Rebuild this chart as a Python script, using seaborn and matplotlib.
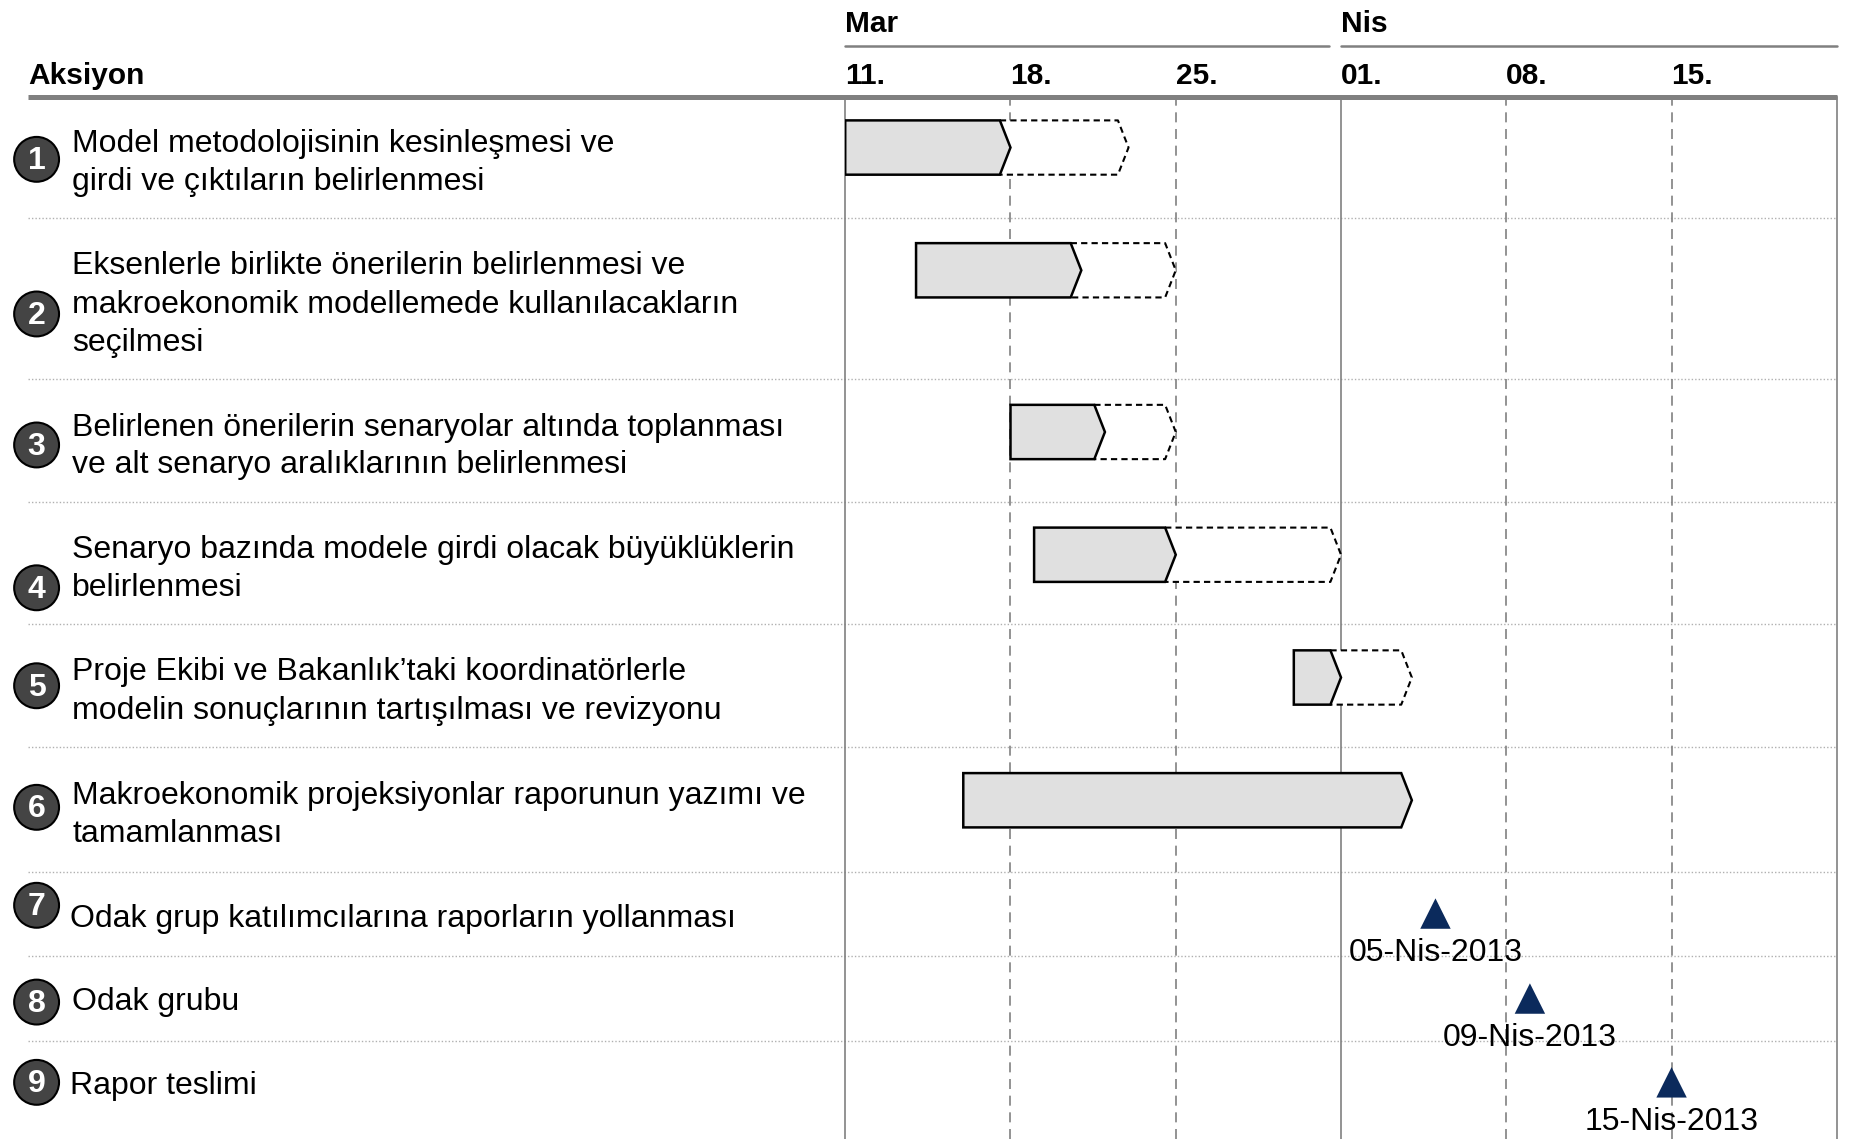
import numpy as np
import pandas as pd
import matplotlib.pyplot as plt
import matplotlib.dates as mdates
from matplotlib.transforms import blended_transform_factory
from matplotlib.patches import Polygon, Circle
import seaborn as sns

sns.set_style("white")
plt.rcParams['font.family'] = ['Liberation Sans', 'DejaVu Sans']
plt.rcParams['text.color'] = 'black'

# --- data ---
actions = [
    "Model metodolojisinin kesinleşmesi ve\ngirdi ve çıktıların belirlenmesi",
    "Eksenlerle birlikte önerilerin belirlenmesi ve\nmakroekonomik modellemede kullanılacakların\nseçilmesi",
    "Belirlenen önerilerin senaryolar altında toplanması\nve alt senaryo aralıklarının belirlenmesi",
    "Senaryo bazında modele girdi olacak büyüklüklerin\nbelirlenmesi",
    "Proje Ekibi ve Bakanlık’taki koordinatörlerle\nmodelin sonuçlarının tartışılması ve revizyonu",
    "Makroekonomik projeksiyonlar raporunun yazımı ve\ntamamlanması",
    "Odak grup katılımcılarına raporların yollanması",
    "Odak grubu",
    "Rapor teslimi",
]
task_start = ["2013-03-11", "2013-03-14", "2013-03-18", "2013-03-19", "2013-03-30", "2013-03-16"]
task_done = ["2013-03-18", "2013-03-21", "2013-03-22", "2013-03-25", "2013-04-01", "2013-04-04"]
task_plan = ["2013-03-23", "2013-03-25", "2013-03-25", "2013-04-01", "2013-04-04", "2013-04-04"]
milestones = ["2013-04-05", "2013-04-09", "2013-04-15"]
milestone_labels = ["05-Nis-2013", "09-Nis-2013", "15-Nis-2013"]
months = ["Mar", "Nis"]
month_starts = ["2013-03-11", "2013-04-01"]
month_ends = ["2013-04-01", "2013-04-22"]
week_ticks = pd.date_range("2013-03-11", "2013-04-15", freq="7D")
x_min, x_max = pd.Timestamp("2013-03-11"), pd.Timestamp("2013-04-22")

# --- layout (in reference pixel units, 1568 x 965) ---
W, H = 1568, 965
row_seps = [185, 321, 425, 529, 633, 739, 810, 882]
bar_y = [125, 229, 366, 470, 574, 678]
bar_h = 46
ms_y = [774, 846, 917]
text_y = [[120, 152], [223, 256, 288], [360, 392], [464, 496], [567, 600],
          [672, 704], [776], [847], [918]]
text_x = [61, 61, 61, 61, 61, 61, 59, 61, 59]
circle_y = [135, 266, 377, 498, 581, 684, 767, 849, 917]
grey = '#808080'

fig = plt.figure(figsize=(18.51, 11.39), dpi=100)

# overlay axes for the text column and header
lay = fig.add_axes([0, 0, 1, 1])
lay.set_xlim(0, W)
lay.set_ylim(H, 0)
lay.axis('off')

# gantt axes
ax = fig.add_axes([716 / W, 0, (1556 - 716) / W, (H - 82) / H])
ax.patch.set_alpha(0)

df_ms = pd.DataFrame({'date': pd.to_datetime(milestones), 'y': ms_y})
sns.scatterplot(data=df_ms, x='date', y='y', marker='^', s=480, color='#0b2a5c',
                edgecolor='none', ax=ax, zorder=5, legend=False)
ax.set_xlim(x_min, x_max)
ax.set_ylim(H, 82)
ax.set_xlabel('')
ax.set_ylabel('')
ax.set_xticks([])
ax.set_yticks([])
for s in ['top', 'bottom']:
    ax.spines[s].set_visible(False)
for s in ['left', 'right']:
    ax.spines[s].set_color(grey)
    ax.spines[s].set_linewidth(1.2)

for d in week_ticks[1:]:
    if d.day == 1:
        ax.axvline(d, color=grey, lw=1.2, zorder=1)
    else:
        ax.axvline(d, color=grey, lw=1.2, ls=(0, (6, 4)), zorder=1)

tip = 0.45
for y, s0, s1, s2 in zip(bar_y, task_start, task_done, task_plan):
    a = mdates.date2num(pd.Timestamp(s0))
    b = mdates.date2num(pd.Timestamp(s1))
    c = mdates.date2num(pd.Timestamp(s2))
    top, bot = y - bar_h / 2, y + bar_h / 2
    if c > b:
        ax.add_patch(Polygon([(b - tip, top), (c - tip, top), (c, y), (c - tip, bot),
                              (b - tip, bot), (b, y)], closed=True, facecolor='white',
                             edgecolor='none', zorder=2))
        ax.plot([b - tip, c - tip, c, c - tip, b - tip], [top, top, y, bot, bot],
                color='black', lw=1.5, ls=(0, (3, 2)), zorder=3)
    ax.add_patch(Polygon([(a, top), (b - tip, top), (b, y), (b - tip, bot), (a, bot)],
                         closed=True, facecolor='#e0e0e0', edgecolor='black',
                         lw=1.8, zorder=4))

for d, y, lab in zip(milestones, ms_y, milestone_labels):
    ax.text(pd.Timestamp(d), y + 40, lab, ha='center', va='baseline', fontsize=23,
            zorder=6)

# header
trans = blended_transform_factory(ax.transData, lay.transData)
for m, s0, s1 in zip(months, month_starts, month_ends):
    lay.text(mdates.date2num(pd.Timestamp(s0)), 27, m, transform=trans,
             fontsize=21.5, fontweight='bold', ha='left', va='baseline')
    x0 = mdates.date2num(pd.Timestamp(s0))
    x1 = mdates.date2num(pd.Timestamp(s1)) - (0.5 if s1 != month_ends[-1] else 0)
    lay.plot([x0, x1], [39, 39], transform=trans, color=grey, lw=1.8)
for d in week_ticks:
    lay.text(mdates.date2num(d), 71, d.strftime('%d.'), transform=trans,
             fontsize=21.5, fontweight='bold', ha='left', va='baseline')
lay.text(24, 71, 'Aksiyon', fontsize=21.5, fontweight='bold', ha='left', va='baseline')
lay.plot([24, 1556], [82, 82], color=grey, lw=3.6, solid_capstyle='butt')

for y in row_seps:
    lay.plot([24, 1556], [y, y], color='#b0b0b0', lw=1, ls=(0, (1, 1.5)))

# action texts with numbered circles
for i, (txt, ys, x, cy) in enumerate(zip(actions, text_y, text_x, circle_y)):
    for line, y in zip(txt.split('\n'), ys):
        lay.text(x, y + 9, line, fontsize=23, ha='left', va='baseline')
    lay.add_patch(Circle((31, cy), 19, facecolor='#444444', edgecolor='black', lw=1.5))
    lay.text(31, cy + 8.5, str(i + 1), fontsize=23, fontweight='bold', color='white',
             ha='center', va='baseline')

fig.savefig('out.png', dpi=100)
